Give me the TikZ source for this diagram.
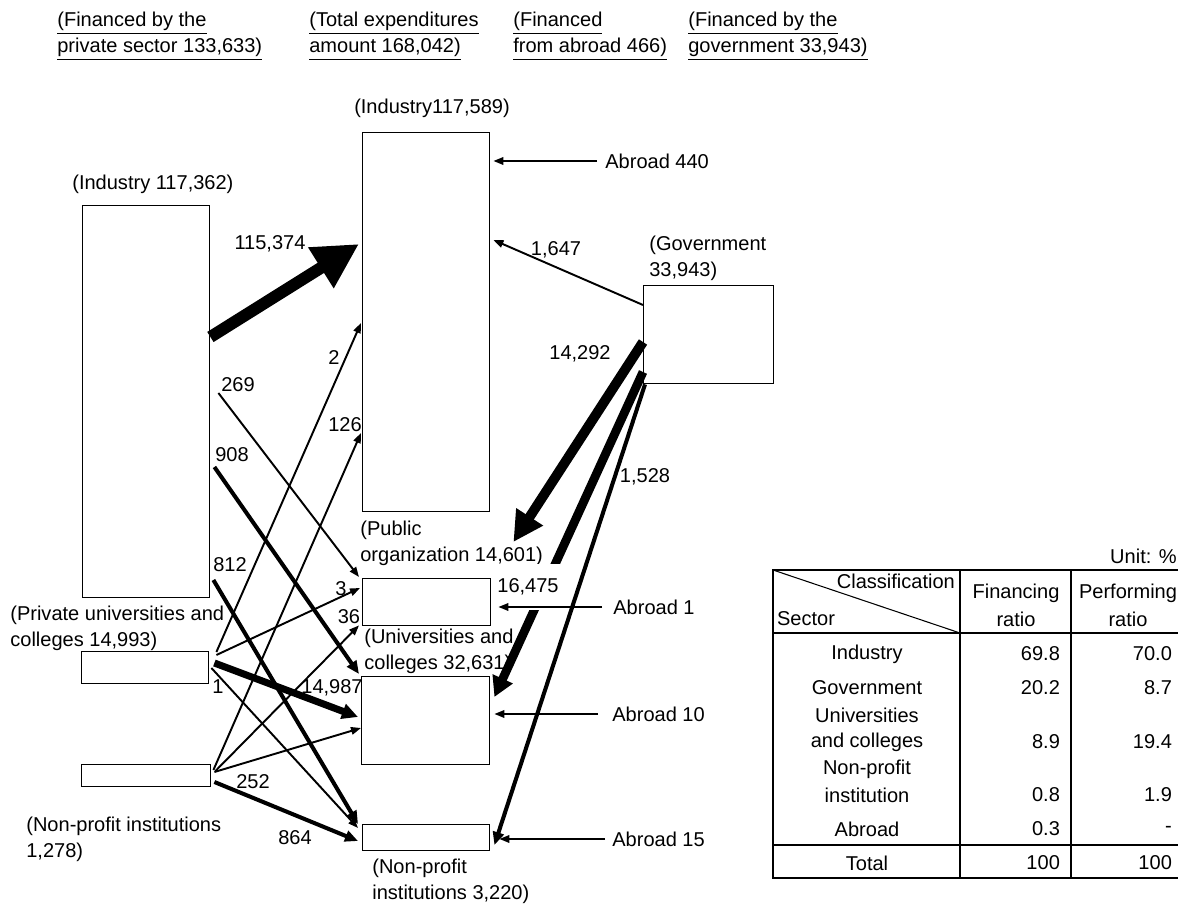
\documentclass[tikz,border=0pt]{standalone}
\usepackage{fontspec}
\setmainfont{Liberation Sans}
\usepackage{tikz}
\usetikzlibrary{arrows.meta,calc}
\newcommand{\flowfont}{\fontsize{11.4}{14.7}\selectfont}
\tikzset{
  secbox/.style={draw, line width=0.8pt, fill=white, inner sep=0pt, anchor=north west},
  captxt/.style={font=\flowfont, inner sep=0pt, align=left, anchor=west},
  num/.style={font=\flowfont, inner sep=1pt},
  thinarr/.style={line width=1.1pt, -{Triangle[length=0.2cm, width=0.15cm]}},
  midarr/.style={line width=2.3pt, -{Triangle[length=0.26cm, width=0.22cm]}},
  widearr/.style={line width=4pt, -{Triangle[length=0.32cm, width=0.3cm]}},
  midbigarr/.style={line width=5pt, -{Triangle[length=0.4cm, width=0.42cm]}},
  bigarr/.style={line width=5.6pt, -{Triangle[length=0.6cm, width=0.6cm]}},
  hugearr/.style={line width=6.8pt, -{Triangle[length=0.9cm, width=0.9cm]}},
  tabline/.style={line width=1.4pt}
}
\newcommand{\sectorbox}[5]{\node[secbox, minimum width=#4*0.02cm, minimum height=#5*0.02cm] (#1) at (#2,#3) {};}

\begin{document}
\begin{tikzpicture}[x=0.02cm, y=-0.02cm]
  \clip (0,0) rectangle (1178,908);
  % headings
  \node[captxt] (hPriv) at (57,36) {\underline{(Financed by the}\\\underline{private sector 133,633)}};
  \node[captxt] (hTot) at (309,36) {\underline{(Total expenditures}\\\underline{amount 168,042)}};
  \node[captxt] (hAbr) at (513,36) {\underline{(Financed}\\\underline{from abroad 466)}};
  \node[captxt] (hGov) at (688,36) {\underline{(Financed by the}\\\underline{government 33,943)}};

  % financing (left) and performing (middle) sectors
  \sectorbox{IF}{82}{205}{127}{392}
  \sectorbox{PU}{81}{651}{127}{32}
  \sectorbox{NF}{81}{764}{129}{22}
  \sectorbox{IP}{362}{132}{127}{379}
  \sectorbox{PO}{362}{578}{128}{47}
  \sectorbox{UP}{361}{676}{128}{88}
  \sectorbox{NP}{362}{824}{127}{26}
  \sectorbox{G}{643}{285}{130}{98}

  \node[captxt] (cIF) at (72,184) {(Industry 117,362)};
  \node[captxt] (cPU) at (10,628) {(Private universities and\\colleges 14,993)};
  \node[captxt] (cNF) at (26,839) {(Non-profit institutions\\1,278)};
  \node[captxt, anchor=center] (cIP) at (432,108) {(Industry117,589)};
  \node[captxt] (cPO) at (360,543) {(Public\\organization 14,601)};
  \node[captxt] (cUP) at (364,651) {(Universities and\\colleges 32,631)};
  \node[captxt] (cNP) at (372,881) {(Non-profit\\institutions 3,220)};
  \node[captxt] (cG) at (649,258) {(Government\\33,943)};

  % flows
  \draw[hugearr] ($(IF.north east)+(0,132)$) -- ($(IP.north west)+(-3,112)$);
  \draw[thinarr] ($(G.north west)+(0,20)$) -- ($(IP.north east)+(3,108)$);
  \draw[bigarr] ($(G.north west)+(0,57)$) -- ($(PO.north east)+(22,-36)$);
  \draw[midbigarr] ($(G.north west)+(0,87)$) -- ($(UP.north east)+(4,21)$);
  \draw[midarr] ($(G.south west)+(2,0)$) -- ($(NP.north east)+(4,21)$);
  \draw[thinarr] ($(IF.north east)+(8,188)$) -- ($(PO.north west)+(-3,-1)$);
  \draw[midarr] ($(IF.north east)+(4,262)$) -- ($(UP.north west)+(-2,-2)$);
  \draw[midarr] ($(IF.north east)+(3,375)$) -- ($(NP.north west)+(-4,0)$);
  \draw[thinarr] ($(PU.north east)+(7,1)$) -- ($(IP.north west)+(-1,191)$);
  \draw[thinarr] ($(PU.north east)+(7,4)$) -- ($(PO.north west)+(-2,10)$);
  \draw[widearr] ($(PU.north east)+(5,12)$) -- ($(UP.north west)+(-3,41)$);
  \draw[thinarr] ($(PU.north east)+(2,17)$) -- ($(NP.north west)+(-4,4)$);
  \draw[thinarr] ($(NF.north east)+(2,6)$) -- ($(IP.north west)+(-1,301)$);
  \draw[thinarr] ($(NF.north east)+(4,7)$) -- ($(PO.south west)+(-3,-1)$);
  \draw[thinarr] ($(NF.north east)+(3,8)$) -- ($(UP.north west)+(0,52)$);
  \draw[midarr] ($(NF.north east)+(3,18)$) -- ($(NP.north west)+(-4,17)$);

  \node[num] (n115374) at (270,244) {115,374};
  \node[num] (n1647) at (556,250) {1,647};
  \node[num] (n14292) at (580,354) {14,292};
  \node[num, fill=white, inner ysep=0.3cm] (n16475) at (528,587) {16,475};
  \node[num] (n1528) at (645,477) {1,528};
  \node[num] (n269) at (238,385) {269};
  \node[num] (n908) at (232,455) {908};
  \node[num] (n812) at (230,565) {812};
  \node[num] (n2) at (334,358) {2};
  \node[num] (n126) at (345,425) {126};
  \node[num] (n3) at (341,589) {3};
  \node[num] (n36) at (349,617) {36};
  \node[num] (n14987) at (332,688) {14,987};
  \node[num] (n1) at (218,687) {1};
  \node[num] (n252) at (253,782) {252};
  \node[num] (n864) at (295,838) {864};

  % from abroad
  \node[captxt] (abIP) at (605,161) {Abroad 440};
  \node[captxt] (abPO) at (613,607) {Abroad 1};
  \node[captxt] (abUP) at (612,714) {Abroad 10};
  \node[captxt] (abNP) at (612,839) {Abroad 15};
  \draw[thinarr, shorten <=0.16cm, shorten >=0.06cm] (abIP.west) -- (abIP.west -| IP.east);
  \draw[thinarr, shorten <=0.22cm, shorten >=0.14cm] (abPO.west) -- (abPO.west -| PO.east);
  \draw[thinarr, shorten <=0.28cm, shorten >=0.08cm] (abUP.west) -- (abUP.west -| UP.east);
  \draw[thinarr, shorten <=0.14cm, shorten >=0.18cm] (abNP.west) -- (abNP.west -| NP.east);

  % ratio table
  \node[captxt, anchor=east] (unit) at (1177,556) {Unit: \%};
  \draw[tabline] (773,570) rectangle (1190,878);
  \draw[tabline] (773,633) -- (1190,633);
  \draw[tabline] (773,845) -- (1190,845);
  \draw[tabline] (960,570) -- (960,878);
  \draw[tabline] (1071,570) -- (1071,878);
  \draw[line width=0.6pt] (773,570) -- (960,633);
  \node[num, anchor=east] (tClass) at (957,581) {Classification};
  \node[num, anchor=west] (tSector) at (775,619) {Sector};
  \node[num] (tFin) at (1016,593) {Financing};
  \node[num] (tFinB) at (1016,619) {ratio};
  \node[num] (tPerf) at (1128,593) {Performing};
  \node[num] (tPerfB) at (1128,619) {ratio};
  \foreach \yy/\nm [count=\i] in {654/Industry, 688/Government, 715/Universities,
      742/and colleges, 769/Non-profit, 795/institution, 829/Abroad, 863/Total}
    \node[num] (sec\i) at (867,\yy) {\nm};
  \foreach \yy/\fin/\perf [count=\i] in {654/69.8/70.0, 688/20.2/8.7, 742/8.9/19.4,
      795/0.8/1.9, 829/0.3/-, 863/100/100}{
    \node[num, anchor=east] (fin\i) at (1062,\yy) {\fin};
    \node[num, anchor=east] (perf\i) at (1174,\yy) {\perf};
  }
\end{tikzpicture}
\end{document}
